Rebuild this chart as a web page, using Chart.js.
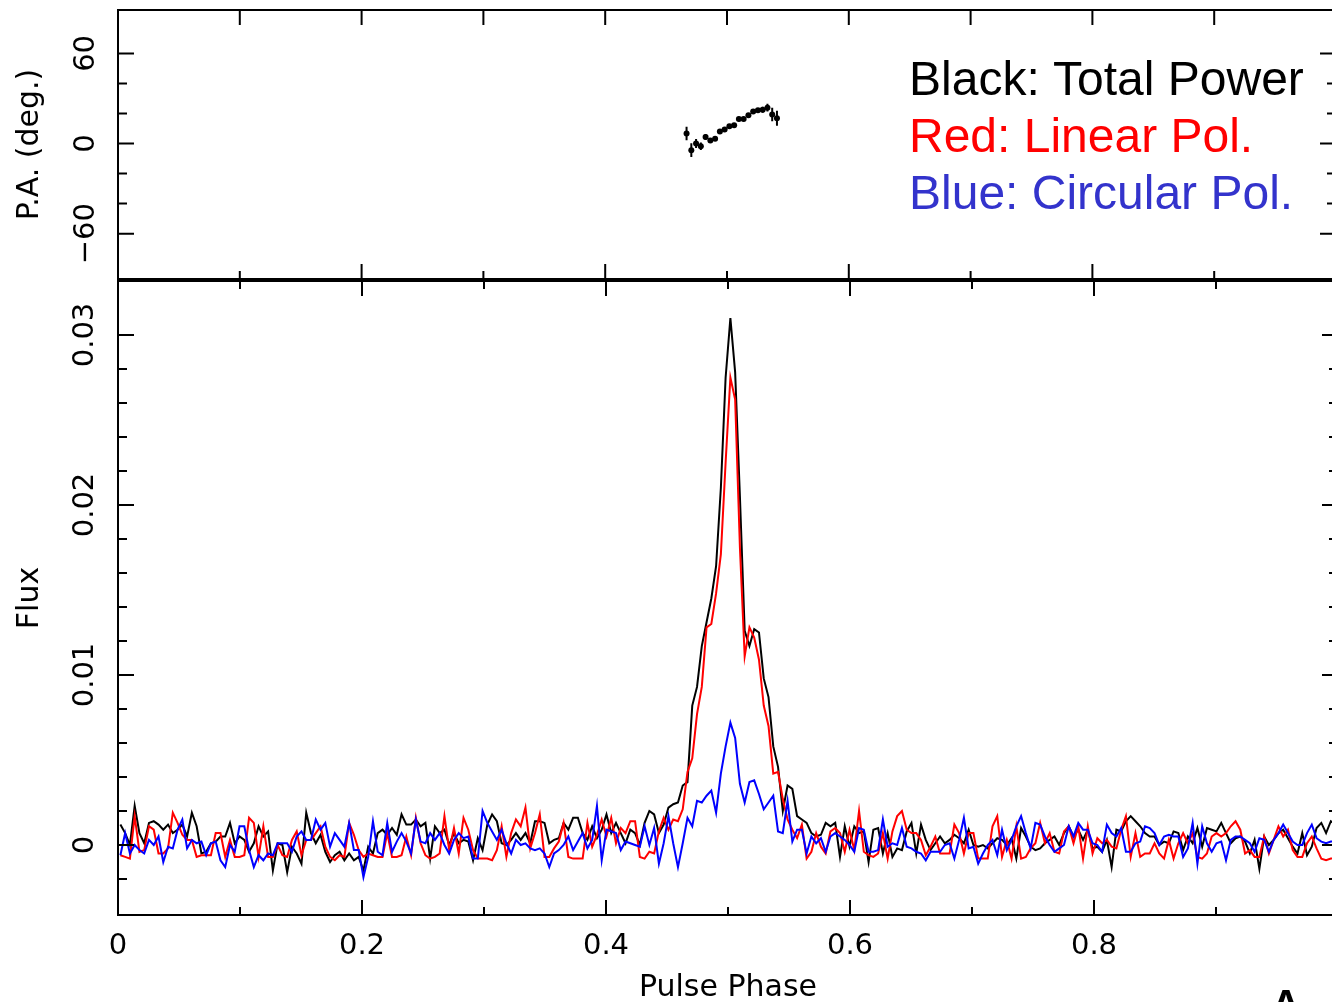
<!DOCTYPE html>
<html>
<head>
<meta charset="utf-8">
<title>Pulse profile</title>
<script src="https://cdn.jsdelivr.net/npm/chart.js@4.4.1/dist/chart.umd.min.js"></script>
<style>
  html, body { margin: 0; padding: 0; background: #fff; width: 1332px; height: 1002px; overflow: hidden; }
  canvas { position: absolute; left: 0; }
  #paChart { top: 0; }
  #fluxChart { top: 279px; }
</style>
</head>
<body>
<canvas id="paChart" width="1340" height="283"></canvas>
<canvas id="fluxChart" width="1340" height="731"></canvas>
<script>
// ---- values (256 phase bins) ----
const NBINS = 256;

const totalPower = [
  0.0012, 0.0007, 0.0000, 0.0023, 0.0007, 0.0001, 0.0013, 0.0014, 0.0012, 0.0009, 0.0012, 0.0007, 0.0009, 0.0012, 0.0005, 0.0019,
  0.0011, -0.0005, -0.0004, 0.0001, 0.0002, 0.0005, 0.0005, 0.0013, 0.0001, 0.0005, 0.0003, -0.0004, 0.0001, 0.0011, 0.0005, 0.0008,
  -0.0015, 0.0001, 0.0000, -0.0016, -0.0001, -0.0005, -0.0011, 0.0019, 0.0007, 0.0001, 0.0006, -0.0004, -0.0010, -0.0006, -0.0004, -0.0009,
  -0.0005, -0.0009, -0.0007, -0.0015, -0.0001, -0.0005, 0.0007, 0.0009, 0.0006, 0.0010, 0.0006, 0.0018, 0.0012, 0.0012, 0.0015, 0.0011,
  0.0013, -0.0008, 0.0011, 0.0007, 0.0009, 0.0000, 0.0007, 0.0001, 0.0003, 0.0002, -0.0009, 0.0004, -0.0003, 0.0012, 0.0018, 0.0014,
  0.0001, 0.0000, 0.0003, 0.0007, 0.0003, 0.0007, 0.0001, 0.0014, 0.0014, 0.0013, 0.0001, 0.0003, 0.0004, 0.0013, 0.0009, 0.0016,
  0.0016, 0.0007, 0.0003, 0.0011, 0.0004, 0.0009, 0.0018, 0.0007, 0.0013, 0.0007, 0.0001, 0.0009, 0.0007, 0.0000, 0.0013, 0.0020,
  0.0018, 0.0007, 0.0012, 0.0022, 0.0024, 0.0025, 0.0035, 0.0037, 0.0082, 0.0093, 0.0117, 0.0131, 0.0145, 0.0164, 0.0210, 0.0275,
  0.0310, 0.0278, 0.0205, 0.0126, 0.0117, 0.0127, 0.0125, 0.0098, 0.0087, 0.0058, 0.0046, 0.0020, 0.0035, 0.0033, 0.0017, 0.0015,
  0.0013, 0.0007, 0.0005, 0.0006, 0.0013, 0.0011, 0.0013, -0.0007, 0.0011, -0.0001, 0.0011, 0.0007, 0.0008, -0.0010, 0.0009, 0.0010,
  -0.0005, 0.0007, -0.0007, -0.0002, -0.0003, 0.0008, 0.0013, -0.0005, 0.0012, 0.0003, -0.0003, 0.0001, 0.0005, 0.0001, 0.0003, 0.0006,
  0.0004, 0.0001, 0.0009, 0.0000, -0.0001, 0.0000, -0.0002, 0.0001, 0.0004, 0.0003, 0.0000, 0.0004, -0.0008, 0.0010, 0.0005, -0.0001,
  -0.0003, -0.0002, 0.0001, 0.0003, 0.0005, 0.0000, 0.0007, 0.0011, 0.0005, 0.0009, 0.0003, 0.0009, -0.0002, -0.0001, -0.0004, 0.0003,
  -0.0013, 0.0009, 0.0008, 0.0014, 0.0017, 0.0014, 0.0011, 0.0007, 0.0005, 0.0005, 0.0000, 0.0002, 0.0001, 0.0008, 0.0007, -0.0003,
  0.0005, 0.0001, 0.0010, -0.0001, 0.0010, 0.0009, 0.0008, 0.0013, 0.0007, 0.0001, 0.0004, 0.0005, 0.0002, -0.0005, 0.0003, -0.0014,
  0.0005, 0.0000, 0.0003, 0.0007, 0.0009, 0.0004, -0.0001, -0.0005, 0.0007, -0.0006, -0.0001, 0.0010, 0.0013, 0.0007, 0.0014, 0.0012
];

const linearPol = [
  -0.0006, -0.0007, -0.0008, 0.0017, -0.0004, -0.0003, 0.0011, 0.0009, -0.0005, -0.0005, -0.0002, 0.0019, 0.0013, 0.0006, 0.0003, 0.0003,
  -0.0007, -0.0006, -0.0006, -0.0006, 0.0007, 0.0007, -0.0007, 0.0003, -0.0007, -0.0007, -0.0006, 0.0016, 0.0013, -0.0007, 0.0011, -0.0007,
  -0.0007, 0.0000, -0.0006, -0.0007, 0.0003, 0.0008, -0.0006, 0.0003, 0.0003, 0.0007, 0.0011, -0.0001, -0.0007, -0.0009, -0.0006, -0.0007,
  0.0013, 0.0006, -0.0003, -0.0007, -0.0005, -0.0006, -0.0007, -0.0007, 0.0007, -0.0007, -0.0007, -0.0006, 0.0005, -0.0006, 0.0016, 0.0001,
  -0.0006, -0.0008, -0.0007, -0.0005, 0.0017, -0.0003, 0.0010, -0.0005, 0.0016, 0.0009, -0.0003, -0.0008, -0.0008, -0.0008, -0.0009, -0.0003,
  0.0011, -0.0007, 0.0007, 0.0015, 0.0011, 0.0022, -0.0002, 0.0007, 0.0018, -0.0007, -0.0007, -0.0002, 0.0002, 0.0013, -0.0007, -0.0008,
  -0.0008, -0.0008, 0.0013, -0.0001, 0.0006, 0.0015, 0.0005, 0.0016, 0.0001, 0.0010, 0.0007, 0.0014, 0.0014, -0.0007, -0.0008, -0.0004,
  -0.0005, 0.0008, 0.0016, 0.0009, 0.0015, 0.0014, 0.0021, 0.0043, 0.0051, 0.0077, 0.0093, 0.0128, 0.0130, 0.0148, 0.0171, 0.0225,
  0.0275, 0.0262, 0.0175, 0.0111, 0.0128, 0.0122, 0.0109, 0.0082, 0.0070, 0.0042, 0.0043, 0.0027, 0.0015, 0.0009, 0.0004, 0.0012,
  -0.0008, -0.0004, 0.0007, -0.0001, -0.0005, 0.0008, 0.0010, 0.0007, -0.0004, 0.0009, -0.0003, 0.0020, -0.0004, -0.0006, -0.0007, -0.0005,
  0.0007, -0.0008, 0.0008, 0.0017, 0.0020, 0.0009, 0.0007, 0.0007, 0.0003, -0.0006, -0.0001, 0.0005, -0.0005, -0.0005, -0.0005, 0.0012,
  0.0007, -0.0005, 0.0007, 0.0007, -0.0008, -0.0008, -0.0008, 0.0011, 0.0017, -0.0007, 0.0003, -0.0008, 0.0011, -0.0008, -0.0007, -0.0002,
  0.0001, 0.0013, 0.0001, 0.0007, -0.0004, -0.0005, 0.0008, 0.0011, 0.0001, 0.0011, -0.0008, 0.0011, -0.0005, 0.0004, 0.0001, 0.0003,
  -0.0001, -0.0002, 0.0009, 0.0017, -0.0007, 0.0007, -0.0007, -0.0005, -0.0005, 0.0001, -0.0005, -0.0008, 0.0003, -0.0008, 0.0001, 0.0007,
  0.0001, 0.0007, -0.0007, -0.0008, -0.0005, 0.0005, 0.0007, 0.0005, 0.0007, 0.0011, 0.0014, 0.0009, -0.0005, -0.0003, -0.0007, -0.0007,
  0.0005, -0.0005, 0.0003, 0.0011, 0.0005, 0.0009, -0.0003, -0.0007, -0.0007, 0.0001, 0.0005, -0.0002, -0.0008, -0.0009, -0.0008, -0.0008
];

const circularPol = [
  -0.0006, 0.0007, -0.0005, 0.0000, -0.0003, -0.0005, 0.0003, 0.0000, 0.0005, -0.0010, -0.0001, -0.0002, 0.0009, 0.0015, -0.0002, 0.0003,
  0.0001, 0.0002, -0.0006, 0.0001, 0.0002, -0.0009, -0.0013, 0.0000, -0.0004, 0.0011, 0.0011, -0.0003, -0.0013, -0.0006, -0.0009, -0.0005,
  -0.0006, 0.0001, 0.0001, 0.0001, -0.0004, 0.0005, 0.0008, 0.0003, 0.0003, 0.0015, 0.0009, 0.0013, -0.0001, 0.0007, 0.0003, -0.0001,
  0.0013, -0.0003, -0.0003, -0.0019, -0.0007, 0.0014, -0.0004, -0.0006, 0.0013, -0.0004, 0.0002, 0.0007, 0.0002, -0.0005, 0.0015, 0.0002,
  0.0001, 0.0007, 0.0003, 0.0007, 0.0000, -0.0005, 0.0003, 0.0007, 0.0004, 0.0005, -0.0008, -0.0008, 0.0020, 0.0013, 0.0008, 0.0003,
  0.0009, 0.0001, -0.0005, 0.0003, 0.0000, 0.0001, -0.0002, -0.0003, -0.0002, -0.0005, -0.0013, -0.0005, -0.0003, 0.0000, 0.0005, -0.0003,
  0.0002, 0.0007, -0.0002, 0.0003, 0.0023, -0.0009, 0.0009, 0.0008, 0.0007, -0.0003, 0.0002, 0.0001, 0.0000, -0.0001, 0.0011, 0.0000,
  0.0010, -0.0011, 0.0001, 0.0017, 0.0001, -0.0013, 0.0001, 0.0016, 0.0011, 0.0026, 0.0025, 0.0029, 0.0032, 0.0019, 0.0042, 0.0058,
  0.0072, 0.0063, 0.0036, 0.0025, 0.0037, 0.0038, 0.0030, 0.0021, 0.0025, 0.0029, 0.0008, 0.0007, 0.0026, 0.0002, 0.0009, 0.0009,
  -0.0005, 0.0005, 0.0001, 0.0004, -0.0004, 0.0005, 0.0007, 0.0005, 0.0003, 0.0000, -0.0004, 0.0010, 0.0009, -0.0004, -0.0004, -0.0003,
  0.0015, -0.0001, 0.0001, 0.0000, 0.0010, -0.0001, -0.0002, -0.0004, -0.0005, -0.0009, -0.0004, -0.0004, -0.0004, 0.0000, 0.0001, -0.0008,
  0.0003, 0.0016, -0.0002, -0.0001, -0.0011, -0.0005, 0.0000, 0.0003, -0.0006, 0.0009, -0.0003, 0.0003, 0.0011, 0.0017, 0.0007, -0.0002,
  0.0013, 0.0012, 0.0005, 0.0000, -0.0004, -0.0002, 0.0000, 0.0011, 0.0005, 0.0013, 0.0009, 0.0009, 0.0001, 0.0000, -0.0004, 0.0012,
  0.0007, 0.0005, 0.0010, -0.0004, -0.0004, 0.0001, 0.0002, 0.0011, 0.0010, 0.0007, 0.0000, 0.0005, 0.0006, 0.0005, 0.0005, -0.0007,
  -0.0002, 0.0013, -0.0011, 0.0011, 0.0001, -0.0004, 0.0001, 0.0002, -0.0009, 0.0003, 0.0005, 0.0005, 0.0003, 0.0001, -0.0004, 0.0004,
  0.0003, -0.0004, 0.0003, 0.0007, 0.0012, 0.0007, 0.0002, 0.0000, 0.0000, 0.0007, 0.0012, 0.0004, 0.0002, 0.0001, 0.0002, 0.0002
];

// position angle: bin index, value and error (deg)
const paBins = [119, 120, 121, 122, 123, 124, 125, 126, 127, 128, 129, 130, 131, 132, 133, 134, 135, 136, 137, 138];
const paDeg  = [6.6, -4.4, 0.0, -1.8, 4.4, 2.0, 3.1, 8.0, 9.3, 11.5, 12.2, 16.4, 16.4, 18.8, 21.4, 22.1, 22.5, 23.9, 19.4, 16.8];
const paErr  = [4.5, 4.5, 3.0, 2.5, 2.0, 1.5, 1.5, 1.5, 1.5, 1.5, 1.5, 1.5, 1.5, 1.5, 1.5, 1.5, 2.0, 2.5, 4.5, 5.0];

// labelled (major) ticks and their text
const xMajorTicks = [0, 0.2, 0.4, 0.6, 0.8];
const xTickLabels = ['0', '0.2', '0.4', '0.6', '0.8'];
const fluxMajorTicks = [0, 0.01, 0.02, 0.03];
const fluxTickLabels = ['0', '0.01', '0.02', '0.03'];
const paMajorTicks = [-60, 0, 60];
const paTickLabels = ['\u221260', '0', '60'];

const legendLabels = ['Black: Total Power', 'Red: Linear Pol.', 'Blue: Circular Pol.'];
const legendColors = ['#000000', '#ff0000', '#3333cc'];
const panelLabel = 'A';

// bin centres in pulse phase
const phase = totalPower.map((_, i) => (i + 0.5) / NBINS);

const TICK_FONT = { family: 'DejaVu Sans', size: 29 };
const TITLE_FONT = { family: 'DejaVu Sans', size: 30 };
const MAJOR = 15;
const MINOR = 8;

function isMajor(value, majors) {
    return majors.some(m => Math.abs(m - value) < 1e-9);
}

function labelFor(value, majors, labels) {
    const i = majors.findIndex(m => Math.abs(m - value) < 1e-9);
    return i < 0 ? '' : labels[i];
}

// Chart.js adds min/max as extra ticks, keep only the step grid
function keepStepTicks(scale) {
    const step = scale.options.ticks.stepSize;
    scale.ticks = scale.ticks.filter(t => Math.abs(t.value / step - Math.round(t.value / step)) < 1e-6);
}

// no label overhang padding, the box is placed by hand
function noPadding(s) {
    s.paddingTop = 0;
    s.paddingBottom = 0;
    s.paddingLeft = 0;
    s.paddingRight = 0;
}

// PGPLOT style box with inward ticks on all four sides
const pgFrame = {
    id: 'pgFrame',
    afterDraw(chart, args, opts) {
        const { ctx, chartArea: a, scales: { x, y } } = chart;
        ctx.save();
        ctx.strokeStyle = '#000';
        ctx.lineWidth = 2;
        ctx.beginPath();
        x.ticks.forEach(t => {
            const px = x.getPixelForValue(t.value);
            const major = isMajor(t.value, xMajorTicks);
            const up = (opts.topAllMajor || major) ? MAJOR : MINOR;
            ctx.moveTo(px, a.top);
            ctx.lineTo(px, a.top + up);
            ctx.moveTo(px, a.bottom);
            ctx.lineTo(px, a.bottom - (major ? MAJOR : MINOR));
        });
        y.ticks.forEach(t => {
            const py = y.getPixelForValue(t.value);
            const len = isMajor(t.value, opts.yMajor) ? MAJOR + 1 : MINOR + 1;
            ctx.moveTo(a.left, py);
            ctx.lineTo(a.left + len, py);
            ctx.moveTo(a.right, py);
            ctx.lineTo(a.right - len, py);
        });
        ctx.stroke();
        ctx.strokeRect(a.left, a.top, a.width, a.height);
        ctx.restore();
    }
};

// error bars on the P.A. points + the colour key
const paExtras = {
    id: 'paExtras',
    afterDatasetsDraw(chart) {
        const { ctx, scales: { x, y } } = chart;
        ctx.save();
        ctx.strokeStyle = '#000';
        ctx.lineWidth = 2;
        ctx.beginPath();
        paBins.forEach((b, i) => {
            const px = x.getPixelForValue((b + 0.5) / NBINS);
            ctx.moveTo(px, y.getPixelForValue(paDeg[i] - paErr[i]));
            ctx.lineTo(px, y.getPixelForValue(paDeg[i] + paErr[i]));
        });
        ctx.stroke();
        ctx.restore();
    },
    afterDraw(chart) {
        const { ctx } = chart;
        ctx.save();
        ctx.font = '48px "Liberation Sans", Arial, sans-serif';
        ctx.textAlign = 'left';
        ctx.textBaseline = 'alphabetic';
        legendLabels.forEach((txt, i) => {
            ctx.fillStyle = legendColors[i];
            ctx.fillText(txt, 909, 95 + i * 57);
        });
        ctx.restore();
    }
};

const cornerLabel = {
    id: 'cornerLabel',
    afterDraw(chart) {
        const { ctx } = chart;
        ctx.save();
        ctx.font = 'bold 40px "Liberation Sans", Arial, sans-serif';
        ctx.fillStyle = '#000';
        ctx.textAlign = 'center';
        ctx.fillText(panelLabel, 1286, 739);
        ctx.restore();
    }
};

function yAxis(min, max, step, majors, labels, title, pad) {
    return {
        type: 'linear',
        min: min,
        max: max,
        afterBuildTicks: keepStepTicks,
        afterFit: s => { s.width = 118; noPadding(s); },
        grid: { display: false, drawTicks: false },
        border: { display: false },
        ticks: {
            stepSize: step,
            autoSkip: false,
            minRotation: 90,
            maxRotation: 90,
            crossAlign: 'center',
            padding: pad,
            color: '#000',
            font: TICK_FONT,
            callback: v => labelFor(v, majors, labels)
        },
        title: { display: true, text: title, color: '#000', font: TITLE_FONT, padding: { top: 12, bottom: 0 } }
    };
}

function xAxis(showLabels) {
    return {
        type: 'linear',
        min: 0,
        max: 1,
        afterBuildTicks: keepStepTicks,
        afterFit: s => { s.height = showLabels ? 95 : 0; noPadding(s); },
        grid: { display: false, drawTicks: false },
        border: { display: false },
        ticks: {
            stepSize: 0.1,
            autoSkip: false,
            maxRotation: 0,
            display: showLabels,
            padding: 14,
            color: '#000',
            font: TICK_FONT,
            callback: v => labelFor(v, xMajorTicks, xTickLabels)
        },
        title: {
            display: showLabels,
            text: 'Pulse Phase',
            color: '#000',
            font: TITLE_FONT,
            padding: { top: 0, bottom: 4 }
        }
    };
}

const baseOptions = {
    responsive: false,
    animation: false,
    devicePixelRatio: 1,
    events: []
};

new Chart(document.getElementById('paChart'), {
    type: 'scatter',
    data: {
        datasets: [{
            data: paBins.map((b, i) => ({ x: (b + 0.5) / NBINS, y: paDeg[i] })),
            pointRadius: 3,
            pointBackgroundColor: '#000',
            pointBorderWidth: 0,
            showLine: false
        }]
    },
    options: {
        ...baseOptions,
        layout: { padding: { top: 10, bottom: 2, left: 0, right: 2 } },
        plugins: {
            legend: { display: false },
            tooltip: { enabled: false },
            pgFrame: { yMajor: paMajorTicks, topAllMajor: true }
        },
        scales: {
            x: xAxis(false),
            y: yAxis(-90.2, 88.9, 20, paMajorTicks, paTickLabels, 'P.A. (deg.)', 1.4)
        }
    },
    plugins: [pgFrame, paExtras]
});

new Chart(document.getElementById('fluxChart'), {
    type: 'line',
    data: {
        labels: phase,
        datasets: [
            { label: 'Total Power', data: totalPower, borderColor: '#000000', order: 2 },
            { label: 'Linear Pol.', data: linearPol, borderColor: '#ff0000', order: 1 },
            { label: 'Circular Pol.', data: circularPol, borderColor: '#0000ff', order: 0 }
        ]
    },
    options: {
        ...baseOptions,
        layout: { padding: { top: 2, bottom: 0, left: 0, right: 2 } },
        elements: {
            line: { borderWidth: 2, tension: 0, fill: false },
            point: { radius: 0 }
        },
        plugins: {
            legend: { display: false },
            tooltip: { enabled: false },
            pgFrame: { yMajor: fluxMajorTicks, topAllMajor: false }
        },
        scales: {
            x: xAxis(true),
            y: yAxis(-0.004118, 0.033176, 0.002, fluxMajorTicks, fluxTickLabels, 'Flux', 0)
        }
    },
    plugins: [pgFrame, cornerLabel]
});
</script>
</body>
</html>
